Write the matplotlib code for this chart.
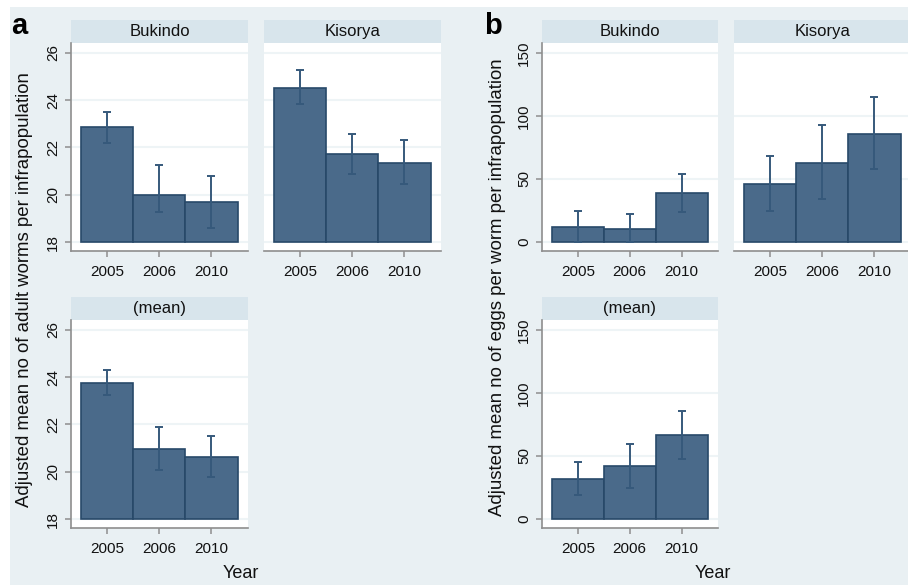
import numpy as np
import matplotlib.pyplot as plt
from matplotlib.patches import Rectangle

plt.rcParams['font.family'] = ['Liberation Sans', 'DejaVu Sans']

# data
years = ['2005', '2006', '2010']

worms_bukindo = [22.85, 20.0, 19.68]
worms_bukindo_lo = [22.2, 19.26, 18.61]
worms_bukindo_hi = [23.52, 21.25, 20.78]

worms_kisorya = [24.52, 21.71, 21.36]
worms_kisorya_lo = [23.86, 20.89, 20.47]
worms_kisorya_hi = [25.26, 22.57, 22.31]

worms_mean = [23.76, 20.96, 20.64]
worms_mean_lo = [23.26, 20.09, 19.76]
worms_mean_hi = [24.3, 21.91, 21.53]

eggs_bukindo = [11.4, 10.4, 38.5]
eggs_bukindo_lo = [0.0, 0.0, 23.4]
eggs_bukindo_hi = [24.2, 21.8, 53.9]

eggs_kisorya = [46.2, 62.9, 86.0]
eggs_kisorya_lo = [24.7, 33.7, 57.6]
eggs_kisorya_hi = [68.2, 92.9, 115.2]

eggs_mean = [32.0, 41.8, 66.7]
eggs_mean_lo = [18.8, 24.6, 47.6]
eggs_mean_hi = [45.5, 59.3, 86.0]

worm_ticks = [18, 20, 22, 24, 26]
egg_ticks = [0, 50, 100, 150]

W, H = 908, 585
BG = '#e9f0f3'
GRID = '#eef4f6'
STRIP = '#d8e5ec'
BAR = '#4a6a8a'
EDGE = '#284969'
ERR = '#36597b'
AXC = '#8e8e8e'
TXT = '#111111'

fig = plt.figure(figsize=(W / 100, H / 100), dpi=100)
fig.patches.append(Rectangle((10 / W, 0), 1, 1 - 7 / H, transform=fig.transFigure,
                             facecolor=BG, edgecolor='none', zorder=-5))


def box(x0, y0, x1, y1):
    return [x0 / W, 1 - y1 / H, (x1 - x0) / W, (y1 - y0) / H]


def panel(rect, title, vals, lo, hi, base, ylim, ticks, show_y):
    ax = fig.add_axes(box(*rect))
    x = np.arange(len(years))
    vals = np.array(vals)
    lo = np.array(lo)
    hi = np.array(hi)
    ax.bar(x, vals - base, bottom=base, width=1.0, color=BAR, edgecolor=EDGE,
           linewidth=1.2, zorder=2)
    ax.errorbar(x, vals, yerr=[vals - lo, hi - vals], fmt='none', ecolor=ERR,
                elinewidth=1.4, capsize=3, capthick=1.4, zorder=3)
    ax.set_xlim(-0.69, 2.70)
    ax.set_ylim(*ylim)
    ax.set_xticks(x)
    ax.set_xticklabels(years)
    ax.set_yticks(ticks)
    ax.yaxis.grid(True, color=GRID, lw=1.5)
    ax.set_axisbelow(True)
    for s in ['top', 'right']:
        ax.spines[s].set_visible(False)
    ax.spines['bottom'].set_color(AXC)
    ax.spines['bottom'].set_linewidth(1.2)
    ax.tick_params(axis='x', length=4, width=1.1, color=AXC, pad=6,
                   labelsize=11, labelcolor=TXT)
    if show_y:
        ax.spines['left'].set_color(AXC)
        ax.spines['left'].set_linewidth(1.2)
        ax.tick_params(axis='y', length=4, width=1.1, color=AXC, pad=4,
                       labelsize=11, labelcolor=TXT)
        for t in ax.get_yticklabels():
            t.set_rotation(90)
            t.set_va('center')
    else:
        ax.spines['left'].set_visible(False)
        ax.tick_params(axis='y', length=0, labelleft=False)
    # header strip
    hh = 23 / (rect[3] - rect[1])
    ax.add_patch(Rectangle((0, 1), 1, hh, transform=ax.transAxes, facecolor=STRIP,
                           edgecolor='none', clip_on=False))
    ax.text(0.5, 1 + hh / 2, title, transform=ax.transAxes, ha='center', va='center',
            fontsize=12, color=TXT)
    return ax


wlim = (17.62, 26.42)
elim = (-7.4, 158.2)

panel((71, 43, 248, 251), 'Bukindo', worms_bukindo, worms_bukindo_lo, worms_bukindo_hi,
      18, wlim, worm_ticks, True)
panel((264, 43, 441, 251), 'Kisorya', worms_kisorya, worms_kisorya_lo, worms_kisorya_hi,
      18, wlim, worm_ticks, False)
panel((71, 320, 248, 528), '(mean)', worms_mean, worms_mean_lo, worms_mean_hi,
      18, wlim, worm_ticks, True)

panel((542, 43, 718, 251), 'Bukindo', eggs_bukindo, eggs_bukindo_lo, eggs_bukindo_hi,
      0, elim, egg_ticks, True)
panel((734, 43, 911, 251), 'Kisorya', eggs_kisorya, eggs_kisorya_lo, eggs_kisorya_hi,
      0, elim, egg_ticks, False)
panel((542, 320, 718, 528), '(mean)', eggs_mean, eggs_mean_lo, eggs_mean_hi,
      0, elim, egg_ticks, True)

# axis titles and panel letters
fig.text(25 / W, 1 - 290 / H, 'Adjusted mean no of adult worms per infrapopulation',
         rotation=90, ha='center', va='center', fontsize=13.4, color=TXT)
fig.text(497 / W, 1 - 287 / H, 'Adjusted mean no of eggs per worm per infrapopulation',
         rotation=90, ha='center', va='center', fontsize=13.4, color=TXT)
fig.text(241 / W, 1 - 574 / H, 'Year', ha='center', va='center', fontsize=13, color=TXT)
fig.text(713 / W, 1 - 574 / H, 'Year', ha='center', va='center', fontsize=13, color=TXT)
fig.text(11 / W, 1 - 34 / H, 'a', ha='left', va='baseline', fontsize=21,
         fontweight='bold', color='black')
fig.text(484 / W, 1 - 34 / H, 'b', ha='left', va='baseline', fontsize=21,
         fontweight='bold', color='black')

fig.savefig('out.png', dpi=100)
